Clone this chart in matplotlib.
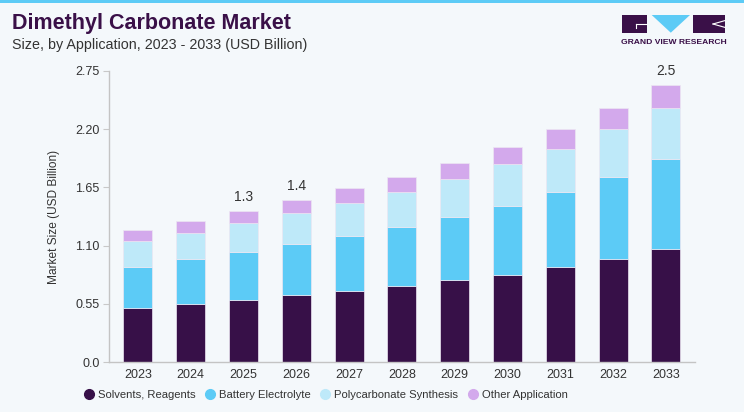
import numpy as np
import matplotlib.pyplot as plt
from matplotlib.patches import Rectangle, Polygon
from matplotlib.lines import Line2D
from matplotlib import font_manager

# values (USD Billion)
years = ['2023', '2024', '2025', '2026', '2027', '2028', '2029', '2030', '2031', '2032', '2033']
solvents = [0.51, 0.55, 0.585, 0.632, 0.67, 0.717, 0.773, 0.824, 0.896, 0.977, 1.069]
battery = [0.39, 0.42, 0.455, 0.484, 0.52, 0.556, 0.598, 0.654, 0.708, 0.771, 0.846]
polycarb = [0.244, 0.254, 0.274, 0.294, 0.31, 0.331, 0.357, 0.39, 0.411, 0.45, 0.487]
other = [0.104, 0.11, 0.116, 0.124, 0.14, 0.146, 0.152, 0.163, 0.189, 0.198, 0.217]
labels = {'2025': '1.3', '2026': '1.4', '2033': '2.5'}
series_names = ['Solvents, Reagents', 'Battery Electrolyte', 'Polycarbonate Synthesis', 'Other Application']
colors = ['#371048', '#5ccbf6', '#bee9f9', '#d3a9ec']
yticks = [0.0, 0.55, 1.10, 1.65, 2.20, 2.75]
ytick_labels = ['0.0', '0.55', '1.10', '1.65', '2.20', '2.75']

plt.rcParams['font.family'] = ['Liberation Sans', 'DejaVu Sans']
bg = '#f4f8fb'
txt = '#333333'

# narrow font for the legend if there is one
try:
    font_manager.findfont(font_manager.FontProperties(family='Liberation Sans Narrow'),
                          fallback_to_default=False)
    leg_font = {'family': 'Liberation Sans Narrow', 'size': 9.5}
    colsp = 1.2
except Exception:
    leg_font = {'family': 'Liberation Sans', 'size': 8.1}
    colsp = 0.9

W, H = 744, 412
fig = plt.figure(figsize=(W / 100, H / 100), dpi=100, facecolor=bg)
ax = fig.add_axes([109.3 / W, 1 - 362.3 / H, (695 - 109.3) / W, (362.3 - 70.8) / H])
ax.set_facecolor(bg)

x = np.arange(len(years))
bottom = np.zeros(len(years))
for vals, name, c in zip([solvents, battery, polycarb, other], series_names, colors):
    ax.bar(x, vals, 0.55, bottom=bottom, color=c, label=name,
           edgecolor='#ece6f2', linewidth=0.5)
    bottom += np.array(vals)

for i, yr in enumerate(years):
    if yr in labels:
        ax.annotate(labels[yr], (x[i], bottom[i]), xytext=(0, 5), textcoords='offset points',
                    ha='center', va='bottom', fontsize=10, color=txt)

ax.set_xlim(-0.54, 10.55)
ax.set_ylim(0, 2.75)
ax.set_xticks(x)
ax.set_xticklabels(years)
ax.set_yticks(yticks)
ax.set_yticklabels(ytick_labels)
ax.tick_params(axis='x', length=0, labelsize=9, colors=txt, pad=5)
ax.tick_params(axis='y', length=4, width=0.8, color='#c8c8c8', labelsize=9, labelcolor=txt, pad=3)
for s in ['top', 'right']:
    ax.spines[s].set_visible(False)
for s in ['left', 'bottom']:
    ax.spines[s].set_color('#c4c4c4')
    ax.spines[s].set_linewidth(1)
ax.set_ylabel('Market Size (USD Billion)', fontsize=8.6, color=txt, labelpad=11)

# round markers in the legend
handles = [Line2D([], [], marker='o', ls='', color=c, markersize=7) for c in colors]
ax.legend(handles, series_names, loc='center left', bbox_to_anchor=(74 / W, 1 - 395 / H),
          bbox_transform=fig.transFigure, ncol=4, frameon=False, prop=leg_font,
          handlelength=0.8, handletextpad=0.4, columnspacing=colsp, labelcolor=txt)

# titles
fig.text(12 / W, 1 - 23 / H, 'Dimethyl Carbonate Market', fontsize=15.5, fontweight='heavy',
         color='#3a1048', va='center', ha='left')
fig.text(12 / W, 1 - 45 / H, 'Size, by Application, 2023 - 2033 (USD Billion)', fontsize=10.3,
         color=txt, va='center', ha='left')

# overlay in pixel coordinates for the border and logo
ov = fig.add_axes([0, 0, 1, 1], zorder=-1)
ov.set_xlim(0, W)
ov.set_ylim(H, 0)
ov.axis('off')
ov.patch.set_alpha(0)
ov.add_patch(Rectangle((0, 0), W, 2.5, color='#5ccbf6', lw=0))
logo_dark = '#3a1048'
ov.add_patch(Rectangle((622.3, 15), 25, 17.7, color=logo_dark, lw=0))
ov.add_patch(Polygon([(651.7, 15), (690, 15), (670.8, 32.7)], closed=True, color='#5ccbf6', lw=0))
ov.add_patch(Rectangle((693.3, 15), 32, 17.7, color=logo_dark, lw=0))
ov.plot([636, 647.3], [24, 24], color='white', lw=0.8)
ov.plot([636, 636], [24, 28], color='white', lw=0.8)
ov.plot([725.3, 713], [20.5, 24], color='white', lw=0.8)
ov.plot([713, 725.3], [24, 27.5], color='white', lw=0.8)
ov.text(674, 42, 'GRAND VIEW RESEARCH', fontsize=6.1, fontweight='bold', color=logo_dark,
        ha='center', va='center')

fig.savefig('out.png', dpi=100, facecolor=bg)
